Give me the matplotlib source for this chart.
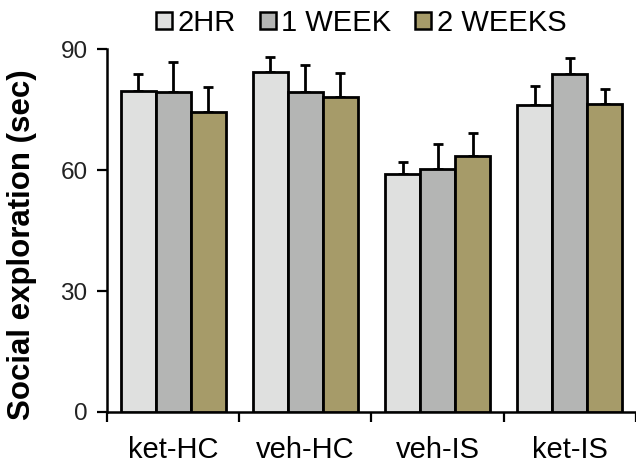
import matplotlib
matplotlib.use("Agg")
import matplotlib.pyplot as plt
import numpy as np
from matplotlib.patches import Patch

categories = ["ket-HC", "veh-HC", "veh-IS", "ket-IS"]
series = ["2HR", "1 WEEK", "2 WEEKS"]
vals_2hr = [79.7, 84.3, 59.0, 76.1]
vals_1wk = [79.4, 79.3, 60.3, 83.8]
vals_2wk = [74.4, 78.1, 63.5, 76.4]
err_2hr = [4.1, 3.7, 3.0, 4.7]
err_1wk = [7.4, 6.7, 6.2, 4.0]
err_2wk = [6.2, 6.0, 5.7, 3.7]
yticks = [0, 30, 60, 90]

colors = ["#dfe0df", "#b4b5b4", "#a69b69"]
values = [vals_2hr, vals_1wk, vals_2wk]
errors = [err_2hr, err_1wk, err_2wk]

plt.rcParams['font.family'] = ['Liberation Sans', 'DejaVu Sans']
fig = plt.figure(figsize=(6.36, 4.66), dpi=100)
ax = fig.add_axes([0.1682, 0.1159, 0.8318, 0.7789])

x = np.arange(len(categories))
w = 0.265
for i, (v, e, c) in enumerate(zip(values, errors, colors)):
    pos = x + (i - 1) * w
    ax.bar(pos, v, width=w, color=c, edgecolor="black", linewidth=2.0, zorder=3)
    ax.errorbar(pos, v, yerr=[np.zeros(len(e)), e], fmt="none", ecolor="black",
                elinewidth=2.0, capsize=3.5, capthick=2.0, zorder=2)

ax.set_xlim(-0.5, 3.5)
ax.set_ylim(0, 90)
ax.set_yticks(yticks)
ax.set_xticks(x)
ax.set_xticklabels(categories, fontsize=21)
ax.set_xticks(np.arange(-0.5, 3.6, 1.0), minor=True)
ax.tick_params(axis="x", which="major", length=0, pad=17)
ax.tick_params(axis="x", which="minor", length=7, width=1.6, direction="out")
ax.tick_params(axis="y", length=7, width=1.6, labelsize=17.5, labelcolor="#222222", pad=7)
for s in ["top", "right"]:
    ax.spines[s].set_visible(False)
for s in ["left", "bottom"]:
    ax.spines[s].set_linewidth(1.8)
ax.set_ylabel("Social exploration (sec)", fontsize=22.5, fontweight="bold")
ax.yaxis.set_label_coords(-0.132, 0.46)

handles = [Patch(facecolor=c, edgecolor="black", linewidth=1.8) for c in colors]
fig.legend(handles, series, loc="center", bbox_to_anchor=(0.568, 0.951), ncol=3,
           frameon=False, fontsize=21, handlelength=0.55, handleheight=0.5,
           handletextpad=0.2, columnspacing=0.8, borderpad=0)

fig.savefig("out.png", dpi=100)
